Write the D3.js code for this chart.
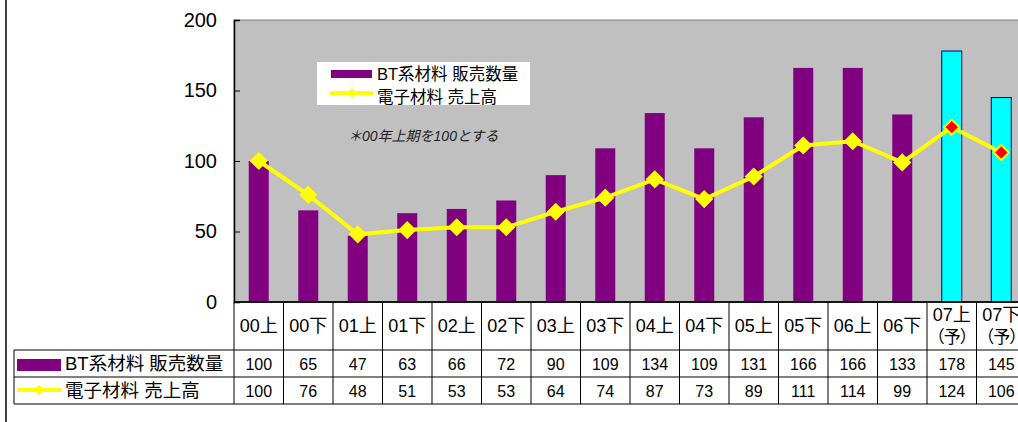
<!DOCTYPE html>
<html>
<head>
<meta charset="utf-8">
<script src="https://cdn.jsdelivr.net/npm/d3@7"></script>
<style>
  body{margin:0;background:#fff;}
  text{font-family:"Liberation Sans","Noto Sans CJK JP",sans-serif;}
</style>
</head>
<body>
<div id="chart"></div>
<script>
// categories and values
let periods = ["00上","00下","01上","01下","02上","02下","03上","03下","04上","04下","05上","05下","06上","06下","07上","07下"];
let forecast = [false,false,false,false,false,false,false,false,false,false,false,false,false,false,true,true];
let btQty = [100,65,47,63,66,72,90,109,134,109,131,166,166,133,178,145];
let elecSales = [100,76,48,51,53,53,64,74,87,73,89,111,114,99,124,106];
let yTicks = [0,50,100,150,200];
let seriesNames = ["BT系材料 販売数量","電子材料 売上高"];
let noteText = "＊00年上期を100とする";

let W = 1018, H = 422;
let plotLeft = 234, plotTop = 20, plotBottom = 302;
let colW = 49.5;

let svg = d3.select("#chart").append("svg").attr("width",W).attr("height",H);

// outer frame line on the left
svg.append("line").attr("x1",6).attr("x2",6).attr("y1",0).attr("y2",H)
   .attr("stroke","#404040").attr("stroke-width",2);

let x = d3.scaleBand().domain(periods).range([plotLeft, plotLeft+colW*periods.length]).padding(0);
let y = d3.scaleLinear().domain([0,200]).range([plotBottom, plotTop]);

// plot area
svg.append("rect").attr("x",plotLeft).attr("y",plotTop)
   .attr("width",colW*periods.length).attr("height",plotBottom-plotTop)
   .attr("fill","#C0C0C0").attr("stroke","#808080").attr("stroke-width",1);

// bars
let barW = 20;
svg.append("g").selectAll("rect").data(periods).enter().append("rect")
   .attr("x",(d)=>x(d)+x.bandwidth()/2-barW/2)
   .attr("y",(d,i)=>y(btQty[i]))
   .attr("width",barW)
   .attr("height",(d,i)=>y(0)-y(btQty[i]))
   .attr("fill",(d,i)=>forecast[i] ? "#00FFFF" : "#800080")
   .attr("stroke",(d,i)=>forecast[i] ? "#000080" : "none")
   .attr("stroke-width",1);

// y axis
let yAxis = d3.axisLeft(y).tickValues(yTicks).tickSize(-6).tickPadding(17);
let ag = svg.append("g").attr("transform","translate("+plotLeft+",0)").call(yAxis);
ag.attr("font-family",null);
ag.select(".domain").attr("stroke","#000").attr("stroke-width",1.5);
ag.selectAll(".tick line").attr("stroke","#000");
ag.selectAll(".tick text").style("font-size","20px").attr("fill","#000");

// x axis base line
svg.append("line").attr("x1",plotLeft).attr("x2",W).attr("y1",plotBottom).attr("y2",plotBottom)
   .attr("stroke","#000").attr("stroke-width",1.5);

// line series
let cx = (d,i)=>x(periods[i])+x.bandwidth()/2;
let line = d3.line().x(cx).y((d)=>y(d));
svg.append("path").datum(elecSales).attr("d",line)
   .attr("fill","none").attr("stroke","#FFFF00").attr("stroke-width",4);

let diamond = d3.symbol().type(d3.symbolDiamond2).size(150);
svg.append("g").selectAll("path").data(elecSales).enter().append("path")
   .attr("d",diamond)
   .attr("transform",(d,i)=>"translate("+cx(d,i)+","+y(d)+")")
   .attr("fill",(d,i)=>forecast[i] ? "#FF0000" : "#FFFF00")
   .attr("stroke","#FFFF00").attr("stroke-width",2);

// legend inside plot
let lg = svg.append("g");
lg.append("rect").attr("x",317).attr("y",62).attr("width",213).attr("height",43).attr("fill","#fff");
lg.append("rect").attr("x",331).attr("y",70).attr("width",41).attr("height",8).attr("fill","#800080");
lg.append("text").attr("x",377).attr("y",80).style("font-size","16.5px").text(seriesNames[0]);
lg.append("line").attr("x1",330).attr("x2",373).attr("y1",93).attr("y2",93)
  .attr("stroke","#FFFF00").attr("stroke-width",4);
lg.append("path").attr("d",d3.symbol().type(d3.symbolDiamond2).size(60))
  .attr("transform","translate(352,93)").attr("fill","#FFFF00");
lg.append("text").attr("x",377).attr("y",103).style("font-size","16.5px").text(seriesNames[1]);

svg.append("text").attr("x",348).attr("y",141).style("font-size","14px")
   .style("font-style","italic").attr("fill","#202020").text(noteText);

// data table
let rowTop = [350,377], tableLeft = 14, tableRight = plotLeft+colW*periods.length;
let tg = svg.append("g");
[plotBottom,350,377,404].forEach(function(yy,k){
  tg.append("line").attr("x1",k==0 ? plotLeft : tableLeft).attr("x2",tableRight)
    .attr("y1",yy).attr("y2",yy).attr("stroke","#000").attr("stroke-width",1);
});
tg.append("line").attr("x1",tableLeft).attr("x2",tableLeft).attr("y1",350).attr("y2",404)
  .attr("stroke","#000");
tg.selectAll(".vl").data(periods).enter().append("line")
  .attr("x1",(d)=>x(d)).attr("x2",(d)=>x(d)).attr("y1",plotBottom).attr("y2",404)
  .attr("stroke","#000").attr("stroke-width",1);

// header labels
tg.selectAll(".hd").data(periods).enter().append("text")
  .attr("x",(d)=>x(d)+x.bandwidth()/2)
  .attr("y",(d,i)=>forecast[i] ? 321 : 332)
  .attr("text-anchor","middle").style("font-size","18px")
  .text((d)=>d);
// second line of the forecast columns
tg.selectAll(".hd2").data(periods.filter((d,i)=>forecast[i])).enter().append("text")
  .attr("x",(d)=>x(d)+x.bandwidth()/2).attr("y",343)
  .attr("text-anchor","middle").style("font-size","17px")
  .style("letter-spacing","-1px").style("text-spacing-trim","space-all")
  .text("（予）");

[btQty,elecSales].forEach(function(vals,r){
  tg.append("g").selectAll("text").data(vals).enter().append("text")
    .attr("x",(d,i)=>cx(d,i)).attr("y",rowTop[r]+20)
    .attr("text-anchor","middle").style("font-size","16px").text((d)=>d);
  tg.append("text").attr("x",65).attr("y",rowTop[r]+20).style("font-size","18.5px").text(seriesNames[r]);
});
tg.append("rect").attr("x",17).attr("y",359).attr("width",44).attr("height",12).attr("fill","#800080");
tg.append("line").attr("x1",17).attr("x2",62).attr("y1",390).attr("y2",390)
  .attr("stroke","#FFFF00").attr("stroke-width",4);
tg.append("path").attr("d",d3.symbol().type(d3.symbolDiamond2).size(70))
  .attr("transform","translate(39,390)").attr("fill","#FFFF00");
</script>
</body>
</html>
